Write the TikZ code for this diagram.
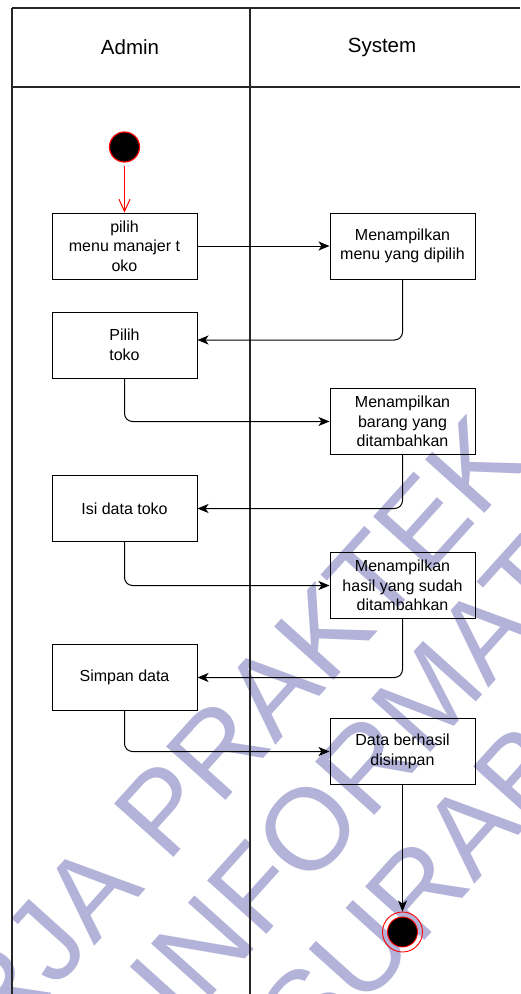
\documentclass[tikz,border=0pt]{standalone}
\usepackage{fontspec}
\setmainfont{Liberation Sans}
\usetikzlibrary{arrows.meta}
\definecolor{wm}{RGB}{179,179,217}
\begin{document}
\begin{tikzpicture}[x=1pt,y=-1pt,
  act/.style={draw, line width=1pt, minimum width=145pt, minimum height=66pt,
    align=center, inner sep=0pt, font=\fontsize{16}{19.5}\selectfont},
  flow/.style={draw, line width=1pt, rounded corners=8pt,
    -{Stealth[length=11pt,width=9pt,inset=3pt]}},
  lane/.style={line width=1.2pt, draw=black!85},
  head/.style={font=\fontsize{20.5}{24}\selectfont},
  wmtext/.style={text=wm, rotate=48, anchor=base west, inner sep=0pt,
    font=\fontsize{116}{116}\selectfont}]

\useasboundingbox (0,0) rectangle (520,994);

% watermark lettering behind the diagram
\begin{scope}
  \clip (0,0) rectangle (520,994);
  \node[wmtext] (wm1) at (-104.2,1166.8) {KERJA PRAKTEK};
  \node[wmtext] (wm2) at (182.7,1028.3) {INFORMATIKA};
  \node[wmtext] (wm3) at (310.7,1066.9) {SURABAYA};
\end{scope}

% swimlanes
\draw[lane] (12,8) -- (520,8);
\draw[lane] (12,87) -- (520,87);
\draw[lane] (12,8) -- (12,994);
\draw[lane] (250,8) -- (250,994);
\node[head] (hadmin) at (130,47) {Admin};
\node[head] (hsys) at (382,47) {System};

% activities
\node[act] (a1) at (124.5,246) {pilih\\menu manajer t\\oko};
\node[act] (s1) at (402.5,246) {Menampilkan\\menu yang dipilih};
\node[act] (a2) at (124.5,345) {Pilih\\toko};
\node[act] (s2) at (402.5,421.5) {Menampilkan\\barang yang\\ditambahkan};
\node[act] (a3) at (124.5,508.5) {Isi data toko};
\node[act] (s3) at (402.5,585.5) {Menampilkan\\hasil yang sudah\\ditambahkan};
\node[act] (a4) at (124.5,677.5) {Simpan data};
\node[act] (s4) at (402.5,751.5) {Data berhasil\\disimpan};

% start and end
\node[circle, fill=black, draw=red, line width=1.2pt, minimum size=30pt, inner sep=0pt] (start) at (124.5,147) {};
\node[circle, draw=red, line width=0.9pt, minimum size=40pt, inner sep=0pt] (stop) at (402.5,932) {};
\node[circle, fill=black, draw=red, line width=0.9pt, minimum size=30pt, inner sep=0pt] (stopdot) at (stop.center) {};

% control flow
\draw[red, line width=1pt, shorten <=3pt, -{Straight Barb[length=12pt,width=11pt]}] (start) -- (a1);
\draw[flow] (a1.east) -- (s1.west);
\draw[flow] (s1.south) |- ([yshift=5pt]a2.east);
\draw[flow] (a2.south) |- (s2.west);
\draw[flow] (s2.south) |- (a3.east);
\draw[flow] (a3.south) |- (s3.west);
\draw[flow] (s3.south) |- (a4.east);
\draw[flow] (a4.south) |- (s4.west);
\draw[flow] (s4.south) -- (stop.north);
\end{tikzpicture}
\end{document}
